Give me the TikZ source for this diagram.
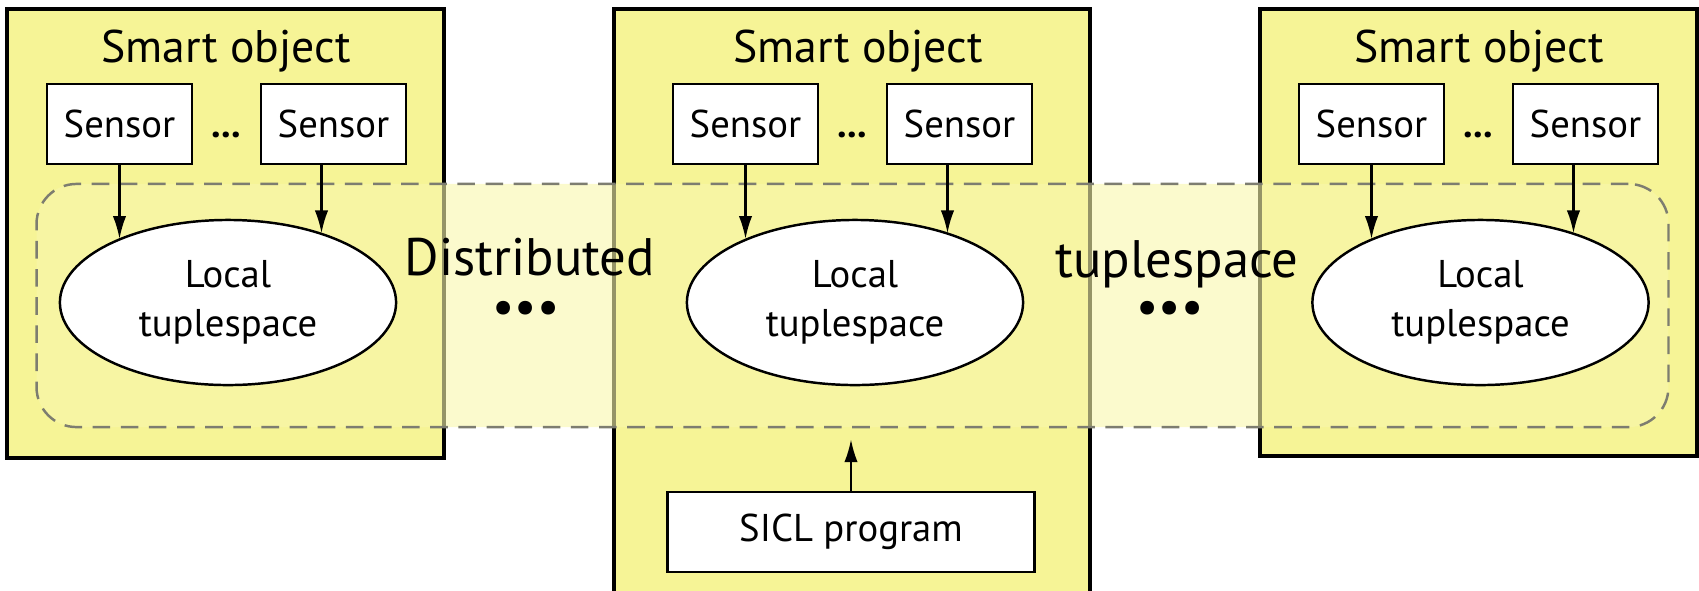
\documentclass[tikz,border=0pt]{standalone}
\usepackage{fontspec}
\setmainfont{PT Sans}
\usetikzlibrary{shapes.geometric,arrows.meta}

\definecolor{objyellow}{RGB}{246,244,150}
\definecolor{spaceyellow}{RGB}{249,247,172}
\definecolor{dashgray}{RGB}{125,125,112}

\tikzset{
  objbox/.style={fill=objyellow, draw=black, line width=0.9pt},
  band/.style={draw=dashgray, line width=0.7pt, dash pattern=on 5pt off 3pt,
    fill=spaceyellow, fill opacity=0.6, rounded corners=0.4cm,
    minimum width=16.31cm, minimum height=2.43cm, inner sep=0pt},
  sensor/.style={draw, fill=white, line width=0.8pt, minimum width=1.45cm,
    minimum height=0.8cm, inner sep=0pt, font=\fontsize{11}{13}\selectfont},
  prog/.style={sensor, minimum width=3.66cm},
  localts/.style={ellipse, draw, fill=white, line width=0.7pt,
    minimum width=3.36cm, minimum height=1.65cm, inner sep=0pt, align=center,
    font=\fontsize{11}{14}\selectfont},
  feed/.style={-{Latex[length=6.5pt,width=3.8pt]}, line width=0.6pt},
  title/.style={anchor=base, font=\fontsize{13}{15}\selectfont},
  more/.style={anchor=base, font=\fontsize{11}{13}\bfseries\selectfont},
  bigword/.style={anchor=base, font=\fontsize{15}{18}\selectfont},
  gapdots/.style={font=\fontsize{14}{16}\selectfont, inner sep=0pt},
}

\begin{document}
\begin{tikzpicture}[x=0.01cm, y=-0.01cm]
  \useasboundingbox (0,0) rectangle (1699,590);
  \clip (0,0) rectangle (1699,590);

  % Smart object boxes (the middle one runs off the bottom)
  \draw[objbox] (7,9) rectangle (444,458);
  \draw[objbox] (614,600) -- (614,9) -- (1090,9) -- (1090,600);
  \draw[objbox] (1260,9) rectangle (1697,456);

  % Distributed tuplespace across all objects
  \node[band] (dts) at (852.5,305.5) {};
  \node[bigword] (dword) at (530,275) {Distributed};
  \node[bigword] (tword) at (1177,277) {tuplespace};
  \node[gapdots] (gap1) at (526,312) {\textbullet\textbullet\textbullet};
  \node[gapdots] (gap2) at (1170,312) {\textbullet\textbullet\textbullet};

  % Left object
  \node[title] (t1) at (226,62) {Smart object};
  \node[sensor] (s11) at (119.5,124) {Sensor};
  \node[sensor] (s12) at (333.5,124) {Sensor};
  \node[more] (d1) at (226.5,137) {...};
  \node[localts] (l1) at (228,302.5) {Local\\tuplespace};
  \draw[feed] (s11.south) -- (s11.south |- l1.150);
  \draw[feed] ([xshift=-0.12cm]s12.south) -- ([xshift=-0.12cm]s12.south |- l1.36);

  % Middle object
  \node[title] (t2) at (858,62) {Smart object};
  \node[sensor] (s21) at (745.5,124) {Sensor};
  \node[sensor] (s22) at (959.5,124) {Sensor};
  \node[more] (d2) at (852.5,137) {...};
  \node[localts] (l2) at (855,302.5) {Local\\tuplespace};
  \draw[feed] (s21.south) -- (s21.south |- l2.150);
  \draw[feed] ([xshift=-0.12cm]s22.south) -- ([xshift=-0.12cm]s22.south |- l2.36);
  \node[prog] (sicl) at (851,532) {SICL program};
  \draw[feed, shorten >=0.11cm] (sicl.north) -- (sicl.north |- dts.south);

  % Right object
  \node[title] (t3) at (1479,62) {Smart object};
  \node[sensor] (s31) at (1371.5,124) {Sensor};
  \node[sensor] (s32) at (1585.5,124) {Sensor};
  \node[more] (d3) at (1478.5,137) {...};
  \node[localts] (l3) at (1480.5,302.5) {Local\\tuplespace};
  \draw[feed] (s31.south) -- (s31.south |- l3.150);
  \draw[feed] ([xshift=-0.12cm]s32.south) -- ([xshift=-0.12cm]s32.south |- l3.36);
\end{tikzpicture}
\end{document}
